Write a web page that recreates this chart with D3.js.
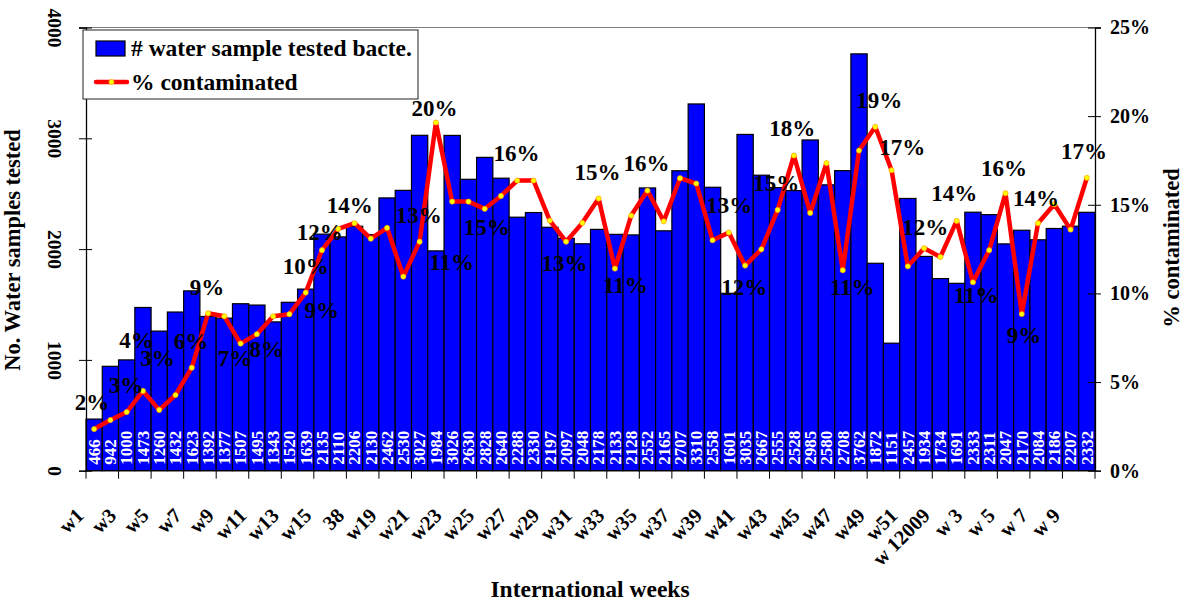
<!DOCTYPE html>
<html>
<head>
<meta charset="utf-8">
<script src="https://cdn.jsdelivr.net/npm/d3@7"></script>
<style>
    body { margin: 0; background: #fff; }
    text { font-family: "Liberation Serif", "Times New Roman", serif; font-weight: bold; }
</style>
</head>
<body>
<div class="chart"></div>
<script>
// categories (international weeks) - only every other one is labelled on the axis
var weeks = [
    "w1", "w2", "w3", "w4", "w5", "w6", "w7", "w8", "w9", "w10",
    "w11", "w12", "w13", "w14", "w15", "w16", "38", "w18", "w19", "w20",
    "w21", "w22", "w23", "w24", "w25", "w26", "w27", "w28", "w29", "w30",
    "w31", "w32", "w33", "w34", "w35", "w36", "w37", "w38", "w39", "w40",
    "w41", "w42", "w43", "w44", "w45", "w46", "w47", "w48", "w49", "w50",
    "w51", "w52", "w 12009", "w 2", "w 3", "w 4", "w 5", "w 6", "w 7", "w 8",
    "w 9", "w 10"
];

// # water samples tested
var samplesTested = [
    466, 942, 1000, 1473, 1260, 1432, 1623, 1392, 1377, 1507,
    1495, 1343, 1520, 1639, 2135, 2110, 2206, 2130, 2462, 2530,
    3027, 1984, 3026, 2630, 2828, 2640, 2288, 2330, 2197, 2097,
    2048, 2178, 2133, 2128, 2552, 2165, 2707, 3310, 2558, 1601,
    3035, 2667, 2555, 2528, 2985, 2580, 2708, 3762, 1872, 1151,
    2457, 1934, 1734, 1691, 2333, 2311, 2047, 2170, 2084, 2186,
    2207, 2332
];

// % contaminated
var pctContaminated = [
    2.35, 2.86, 3.31, 4.50, 3.43, 4.27, 5.81, 8.88, 8.71, 7.17,
    7.70, 8.71, 8.83, 10.05, 12.44, 13.64, 13.96, 13.09, 13.70, 10.95,
    12.92, 19.64, 15.18, 15.18, 14.77, 15.50, 16.37, 16.37, 14.11, 12.92,
    13.98, 15.35, 11.40, 14.39, 15.80, 14.07, 16.50, 16.20, 13.00, 13.43,
    11.57, 12.49, 14.71, 17.78, 14.54, 17.35, 11.31, 18.06, 19.40, 16.95,
    11.53, 12.55, 12.06, 14.09, 10.63, 12.44, 15.65, 8.84, 13.96, 15.03,
    13.60, 16.52
];

// percent data labels, anchored in data units (category position, percent level)
var labelText = ["2%", "3%", "4%", "3%", "6%", "9%", "7%", "8%", "10%", "9%",
    "12%", "14%", "13%", "20%", "11%", "15%", "16%", "13%", "15%", "11%",
    "16%", "13%", "12%", "15%", "18%", "11%", "19%", "17%", "12%", "14%",
    "11%", "16%", "9%", "14%", "17%"];
var labelAt = [-0.13, 1.96, 2.6, 3.9, 5.95, 6.93, 8.65, 10.61, 13.0, 13.99,
    13.86, 15.71, 19.94, 20.92, 21.97, 24.12, 25.96, 28.9, 30.93, 32.65,
    33.94, 39.03, 39.95, 41.92, 42.9, 46.58, 48.24, 49.65, 51.07, 52.85,
    54.2, 55.91, 57.14, 57.88, 60.83];
var labelLevel = [3.88, 4.84, 7.4, 6.35, 7.32, 10.37, 6.36, 6.87, 11.55, 9.07,
    13.47, 14.99, 14.43, 20.47, 11.78, 13.75, 17.93, 11.72, 16.86, 10.48,
    17.36, 14.99, 10.37, 16.24, 19.34, 10.37, 20.92, 18.27, 13.75, 15.67,
    9.92, 17.08, 7.66, 15.39, 18.04];

var leftTicks = [0, 1000, 2000, 3000, 4000];
var rightTicks = [0, 5, 10, 15, 20, 25];

var svgWidth = 1185;
var svgHeight = 603;
var margin = { top: 27.5, left: 86, right: 90, bottom: 132.3 };
var width = svgWidth - margin.left - margin.right;
var height = svgHeight - margin.top - margin.bottom;

var svg = d3.select(".chart")
    .append("svg")
    .attr("width", svgWidth)
    .attr("height", svgHeight);

var chartGroup = svg.append("g")
    .attr("transform", `translate(${margin.left}, ${margin.top})`);

// scales
var xBand = d3.scaleBand().domain(weeks).range([0, width]).padding(0);
var step = xBand.step();
var xPos = d3.scaleLinear().domain([0, 1]).range([step / 2, step * 1.5]); // fractional category -> px
var yCount = d3.scaleLinear().domain([0, 4000]).range([height, 0]);
var yPct = d3.scaleLinear().domain([0, 25]).range([height, 0]);

// top border of plot area
chartGroup.append("line")
    .attr("x1", 0).attr("x2", width)
    .attr("y1", 0).attr("y2", 0)
    .attr("stroke", "#808080")
    .attr("stroke-width", 1);

// bars
chartGroup.append("g").selectAll("rect")
    .data(samplesTested)
    .enter()
    .append("rect")
    .attr("x", (d, i) => xBand(weeks[i]))
    .attr("y", d => yCount(d))
    .attr("width", xBand.bandwidth())
    .attr("height", d => height - yCount(d))
    .attr("fill", "#0000FF")
    .attr("stroke", "#000")
    .attr("stroke-width", 1.2);

// white value labels inside bars
chartGroup.append("g").selectAll("text")
    .data(samplesTested)
    .enter()
    .append("text")
    .attr("transform", (d, i) => `translate(${xBand(weeks[i]) + step / 2 + 5.8}, ${height - 6}) rotate(-90)`)
    .attr("fill", "#fff")
    .style("font-size", "17px")
    .text(d => d);

// axes
var leftAxis = d3.axisLeft(yCount).tickValues(leftTicks).tickSize(7).tickFormat(d3.format("d"));
var gLeft = chartGroup.append("g").call(leftAxis);
gLeft.select(".domain").attr("stroke", "#000").attr("stroke-width", 1.3);
gLeft.selectAll(".tick line").attr("x1", 6);
gLeft.selectAll(".tick text")
    .attr("x", null).attr("dy", "0.35em")
    .attr("text-anchor", "middle")
    .attr("transform", "translate(-31,0) rotate(90)")
    .attr("fill", "#000")
    .style("font-size", "19.5px")
    .style("font-family", "'Liberation Serif', serif");

var rightAxis = d3.axisRight(yPct).tickValues(rightTicks).tickSize(6).tickFormat(d => d + "%");
var gRight = chartGroup.append("g")
    .attr("transform", `translate(${width}, 0)`)
    .call(rightAxis);
gRight.select(".domain").attr("stroke", "#000").attr("stroke-width", 1.3);
gRight.selectAll(".tick line").attr("x1", -7);
gRight.selectAll(".tick text")
    .attr("x", 15)
    .attr("fill", "#000")
    .style("font-size", "20px")
    .style("font-family", "'Liberation Serif', serif");

// bottom axis: baseline, ticks every two weeks, labels on odd weeks
chartGroup.append("line")
    .attr("x1", 0).attr("x2", width)
    .attr("y1", height).attr("y2", height)
    .attr("stroke", "#000")
    .attr("stroke-width", 1.3);

var tickWeeks = weeks.filter((w, i) => i % 2 === 0);
chartGroup.append("g").selectAll("line")
    .data(tickWeeks.concat([null]))
    .enter()
    .append("line")
    .attr("x1", d => d === null ? width : xBand(d))
    .attr("x2", d => d === null ? width : xBand(d))
    .attr("y1", height)
    .attr("y2", height + 8)
    .attr("stroke", "#000");

chartGroup.append("g").selectAll("text")
    .data(tickWeeks)
    .enter()
    .append("text")
    .attr("transform", d => `translate(${xBand(d) - 1}, ${height + 46}) rotate(-45)`)
    .attr("text-anchor", "end")
    .style("font-size", "20.5px")
    .text(d => d);

// % contaminated line
var line = d3.line()
    .x((d, i) => xBand(weeks[i]) + step / 2)
    .y(d => yPct(d));

chartGroup.append("path")
    .datum(pctContaminated)
    .attr("d", line)
    .attr("fill", "none")
    .attr("stroke", "#FF0000")
    .attr("stroke-width", 4.5)
    .attr("stroke-linejoin", "round");

chartGroup.append("g").selectAll("circle")
    .data(pctContaminated)
    .enter()
    .append("circle")
    .attr("cx", (d, i) => xBand(weeks[i]) + step / 2)
    .attr("cy", d => yPct(d))
    .attr("r", 2.6)
    .attr("fill", "#FFFF00")
    .attr("stroke", "#FF9900")
    .attr("stroke-width", 0.6);

// percent labels
chartGroup.append("g").selectAll("text")
    .data(labelText)
    .enter()
    .append("text")
    .attr("x", (d, i) => xPos(labelAt[i]))
    .attr("y", (d, i) => yPct(labelLevel[i]))
    .attr("dy", "0.35em")
    .attr("text-anchor", "middle")
    .style("font-size", "23px")
    .text(d => d);

// axis titles
svg.append("text")
    .attr("transform", `translate(20, 250) rotate(-90)`)
    .attr("text-anchor", "middle")
    .style("font-size", "22.5px")
    .text("No. Water samples tested");

svg.append("text")
    .attr("transform", `translate(1179, 248) rotate(-90)`)
    .attr("text-anchor", "middle")
    .style("font-size", "22.5px")
    .text("% contaminated");

svg.append("text")
    .attr("x", 590)
    .attr("y", 597)
    .attr("text-anchor", "middle")
    .style("font-size", "23.5px")
    .text("International weeks");

// legend
var legend = svg.append("g").attr("transform", "translate(83, 30)");
legend.append("rect")
    .attr("width", 335).attr("height", 69)
    .attr("fill", "#fff")
    .attr("stroke", "#222")
    .attr("stroke-width", 1);
legend.append("rect")
    .attr("x", 13).attr("y", 11)
    .attr("width", 29).attr("height", 15)
    .attr("fill", "#0000FF")
    .attr("stroke", "#000")
    .attr("stroke-width", 1.2);
legend.append("text")
    .attr("x", 48).attr("y", 26)
    .style("font-size", "23.5px")
    .text("# water sample tested bacte.");
legend.append("line")
    .attr("x1", 13).attr("x2", 44)
    .attr("y1", 52).attr("y2", 52)
    .attr("stroke", "#FF0000")
    .attr("stroke-width", 4.5)
    .attr("stroke-linecap", "round");
legend.append("circle")
    .attr("cx", 28.5).attr("cy", 52).attr("r", 2.6)
    .attr("fill", "#FFFF00")
    .attr("stroke", "#FF9900")
    .attr("stroke-width", 0.6);
legend.append("text")
    .attr("x", 48).attr("y", 60)
    .style("font-size", "23.5px")
    .text("% contaminated");
</script>
</body>
</html>
